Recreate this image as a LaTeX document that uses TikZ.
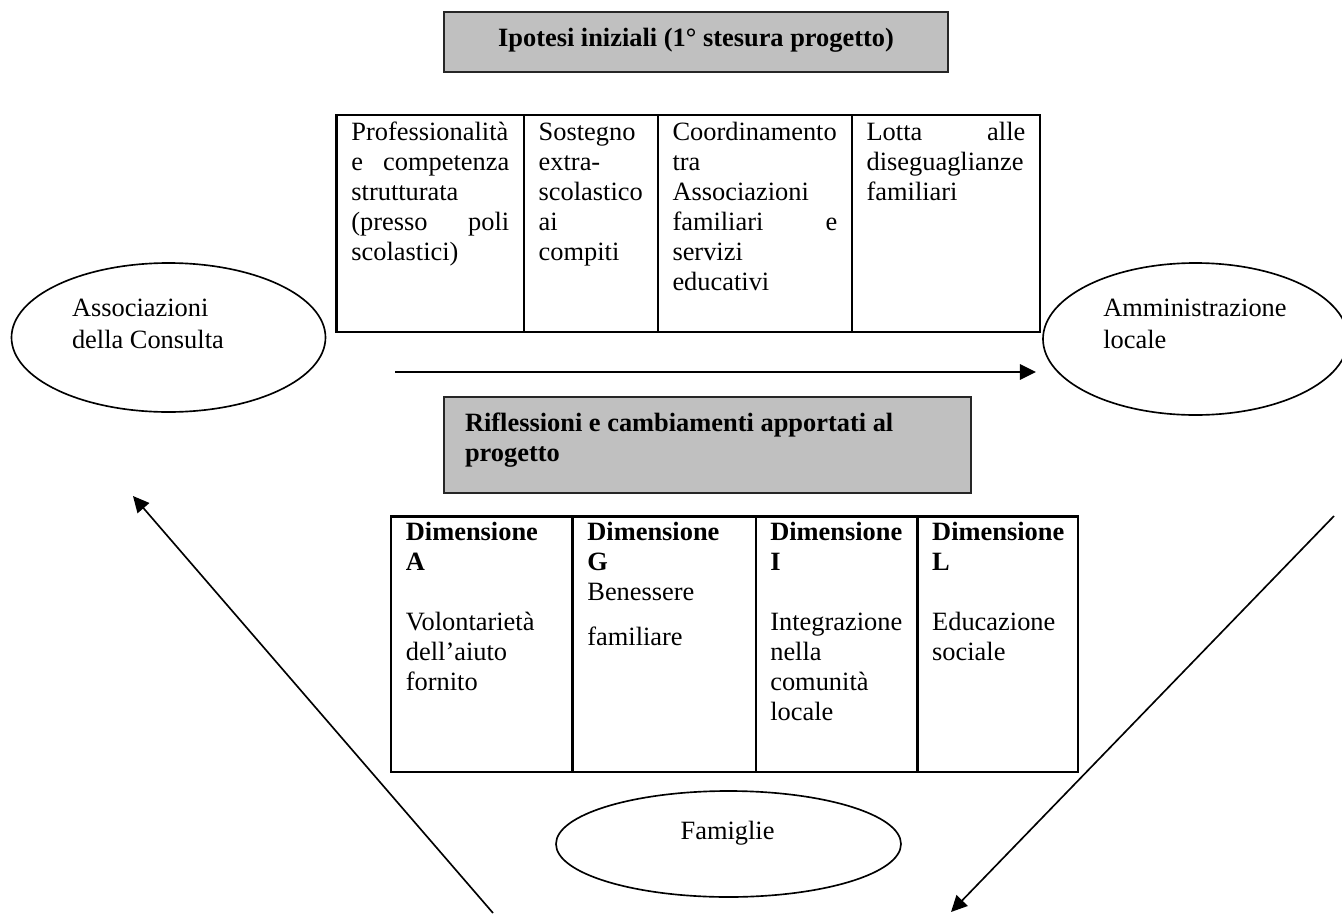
\documentclass[tikz,border=0pt]{standalone}
\usepackage{fontspec}
\setmainfont{Liberation Serif}
\usetikzlibrary{shapes.geometric,arrows.meta}
\definecolor{boxgray}{HTML}{C0C0C0}
\newlength\pxu
\setlength\pxu{0.4545pt}
\hbadness=10000
\hyphenpenalty=10000
\exhyphenpenalty=10000
\begin{document}
\begin{tikzpicture}[x=0.4545pt, y=-0.4545pt,
  font=\fontsize{12pt}{13.64pt}\selectfont,
  cell/.style={draw=black, line width=1.15pt, anchor=north west, inner sep=0pt, outer sep=0pt},
  titlebox/.style={draw=black!85, fill=boxgray, line width=0.9pt, anchor=north west, inner sep=0pt, outer sep=0pt},
  txt/.style={anchor=base west, inner sep=0pt, outer sep=0pt},
  oval/.style={draw=black, ellipse, line width=0.75pt, inner sep=0pt},
  link/.style={line width=0.75pt, -{Triangle[length=7.3pt, width=7pt]}},
]
\useasboundingbox (0,0) rectangle (1342,914);
\fill[white] (0,0) rectangle (1342,914);

% first heading
\node[titlebox, minimum width=504*\pxu, minimum height=60*\pxu] (ipo) at (444,12) {};
\node[anchor=base, inner sep=0pt] (ipoT) at (696,46.5) {\bfseries Ipotesi iniziali (1° stesura progetto)};

% first table
\node[cell, minimum width=187.3*\pxu, minimum height=217*\pxu] (t1a) at (336.7,115) {};
\node[cell, minimum width=133.8*\pxu, minimum height=217*\pxu] (t1b) at (524,115) {};
\node[cell, minimum width=194.1*\pxu, minimum height=217*\pxu] (t1c) at (657.8,115) {};
\node[cell, minimum width=188.1*\pxu, minimum height=217*\pxu] (t1d) at (851.9,115) {};

\node[txt] (t1aT) at (351.4,140) {\parbox[t]{157.9\pxu}{Professionalità\linebreak e competenza\linebreak strutturata\linebreak (presso poli\linebreak scolastici)}};
\node[txt] (t1bT) at (538.7,140) {\parbox[t]{104.6\pxu}{\raggedright Sostegno\\extra-\\scolastico\\ai\\compiti}};
\node[txt] (t1cT) at (672.5,140) {\parbox[t]{164.8\pxu}{Coordinamento\linebreak tra\linebreak Associazioni\linebreak familiari e\linebreak servizi\linebreak educativi}};
\node[txt] (t1dT) at (866.6,140) {\parbox[t]{158.7\pxu}{Lotta alle\linebreak diseguaglianze\linebreak familiari}};

% ovals
\node[oval, minimum width=314*\pxu, minimum height=149*\pxu] (assoc) at (168.5,337.5) {};
\node[txt] (assocT) at (72,316) {\parbox[t]{220\pxu}{\baselineskip=32\pxu Associazioni\\della Consulta}};

\node[oval, minimum width=305*\pxu, minimum height=152*\pxu] (ammin) at (1195.5,339) {};
\node[txt] (amminT) at (1103.3,316) {\parbox[t]{220\pxu}{\baselineskip=32\pxu Amministrazione\\locale}};

% horizontal arrow
\coordinate (hs) at (395,372);
\coordinate (he) at (1036,372);
\draw[link] (hs) -- (he);

% second heading
\node[titlebox, minimum width=526.7*\pxu, minimum height=96*\pxu] (rifl) at (444,396.7) {};
\node[txt] (riflT) at (465,431.7) {\parbox[t]{500\pxu}{\bfseries\baselineskip=30\pxu Riflessioni e cambiamenti apportati al\\progetto}};

% second table
\node[cell, minimum width=181.7*\pxu, minimum height=255.3*\pxu] (t2a) at (391,516.7) {};
\node[cell, minimum width=183.3*\pxu, minimum height=255.3*\pxu] (t2b) at (572.7,516.7) {};
\node[cell, minimum width=161.5*\pxu, minimum height=255.3*\pxu] (t2c) at (756,516.7) {};
\node[cell, minimum width=160.5*\pxu, minimum height=255.3*\pxu] (t2d) at (917.5,516.7) {};

\node[txt] (t2aT) at (405.9,540) {\parbox[t]{150\pxu}{\baselineskip=30\pxu\textbf{Dimensione}\\\textbf{A}\\[30\pxu]Volontarietà\\dell’aiuto\\fornito}};
\node[txt] (t2bT) at (587.4,540) {\parbox[t]{150\pxu}{\baselineskip=30\pxu\textbf{Dimensione}\\\textbf{G}\\Benessere\\[15\pxu]familiare}};
\node[txt] (t2cT) at (770.3,540) {\parbox[t]{150\pxu}{\baselineskip=30\pxu\textbf{Dimensione}\\\textbf{I}\\[30\pxu]Integrazione\\nella\\comunità\\locale}};
\node[txt] (t2dT) at (932.2,540) {\parbox[t]{150\pxu}{\baselineskip=30\pxu\textbf{Dimensione}\\\textbf{L}\\[30\pxu]Educazione\\sociale}};

% bottom oval
\node[oval, minimum width=345*\pxu, minimum height=106*\pxu] (fam) at (728.5,844) {};
\node[anchor=base, inner sep=0pt] (famT) at (727.6,839) {Famiglie};

% diagonal arrows
\coordinate (ls) at (493,913);
\coordinate (le) at (133,496);
\draw[link] (ls) -- (le);
\coordinate (rs) at (1334,516);
\coordinate (re) at (951,912);
\draw[link] (rs) -- (re);
\end{tikzpicture}
\end{document}
